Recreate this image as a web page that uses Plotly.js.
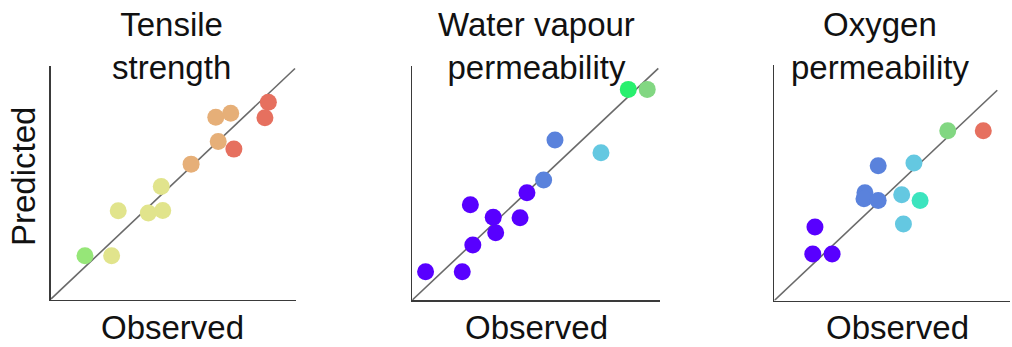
<!DOCTYPE html>
<html>
<head>
<meta charset="utf-8">
<script src="https://cdn.plot.ly/plotly-3.0.1.min.js"></script>
<style>html,body{margin:0;padding:0;background:#fff;}#chart{width:1012px;height:347px;}</style>
</head>
<body>
<div id="chart"></div>
<script>
// ---- Data (normalised observed / predicted values) ----
const panelTitles = ["Tensile<br>strength", "Water vapour<br>permeability", "Oxygen<br>permeability"];
const xAxisLabel = "Observed";
const yAxisLabel = "Predicted";

const tensileObserved  = [0.891, 0.877, 0.676, 0.737, 0.686, 0.750, 0.575, 0.453, 0.277, 0.400, 0.459, 0.141, 0.250];
const tensilePredicted = [0.854, 0.787, 0.789, 0.806, 0.684, 0.651, 0.586, 0.489, 0.384, 0.374, 0.385, 0.189, 0.189];
const tensileColour    = [1.00, 1.00, 0.80, 0.80, 0.80, 1.00, 0.80, 0.68, 0.68, 0.68, 0.68, 0.58, 0.68];

const wvpObserved  = [0.878, 0.955, 0.580, 0.767, 0.534, 0.466, 0.236, 0.329, 0.438, 0.339, 0.246, 0.054, 0.203];
const wvpPredicted = [0.909, 0.909, 0.691, 0.636, 0.518, 0.463, 0.411, 0.357, 0.355, 0.290, 0.237, 0.122, 0.122];
const wvpColour    = [0.45, 0.52, 0.20, 0.30, 0.20, 0.00, 0.00, 0.00, 0.00, 0.00, 0.00, 0.00, 0.00];

const oxyObserved  = [0.708, 0.853, 0.424, 0.570, 0.370, 0.366, 0.424, 0.520, 0.595, 0.527, 0.166, 0.157, 0.236];
const oxyPredicted = [0.735, 0.735, 0.583, 0.595, 0.466, 0.440, 0.433, 0.458, 0.433, 0.331, 0.318, 0.201, 0.201];
const oxyColour    = [0.52, 1.00, 0.20, 0.30, 0.20, 0.20, 0.20, 0.30, 0.38, 0.30, 0.00, 0.00, 0.00];

// identity line end points (observed = predicted)
const identityEnd = [1.0, 1.0, 0.91];

// ---- Styling / layout ----
const W = 1012, H = 347;
const px = x => x / W;
const py = y => 1 - y / H;

const colourScale = [
  [0.00, "rgb(88,0,255)"],
  [0.20, "rgb(90,130,220)"],
  [0.30, "rgb(100,200,225)"],
  [0.38, "rgb(60,228,190)"],
  [0.45, "rgb(40,240,110)"],
  [0.52, "rgb(130,215,130)"],
  [0.58, "rgb(150,230,120)"],
  [0.68, "rgb(225,228,140)"],
  [0.80, "rgb(230,175,120)"],
  [1.00, "rgb(230,112,95)"]
];

// pixel frames of each panel: left, right, bottom, top ; unit = pixels per normalised unit
const frames = [
  {l: 50.5, r: 296, b: 299.5, t: 66, ux: 244.5, uy: 231},
  {l: 412.3, r: 660, b: 300, t: 66, ux: 246, uy: 231.7},
  {l: 774.3, r: 1010, b: 300.5, t: 65, ux: 245, uy: 231}
];
const titleX = [171, 536, 880];
const obsX = [172, 536, 897];

const series = [
  [tensileObserved, tensilePredicted, tensileColour],
  [wvpObserved, wvpPredicted, wvpColour],
  [oxyObserved, oxyPredicted, oxyColour]
];

const data = [];
const layout = {
  width: W, height: H,
  margin: {l: 0, r: 0, t: 0, b: 0},
  paper_bgcolor: "#fff", plot_bgcolor: "#fff",
  showlegend: false,
  font: {family: "Liberation Sans, Arial, sans-serif", color: "#111"},
  annotations: []
};

frames.forEach((f, i) => {
  const n = i === 0 ? "" : String(i + 1);
  const xa = "x" + n, ya = "y" + n;
  const axCommon = {
    showline: true, linecolor: "#3a3a3a", linewidth: 1.6,
    showgrid: false, zeroline: false, showticklabels: false, ticks: "",
    fixedrange: true
  };
  layout["xaxis" + n] = Object.assign({}, axCommon, {
    domain: [px(f.l), px(f.r)],
    range: [0, (f.r - f.l) / f.ux],
    anchor: ya
  });
  layout["yaxis" + n] = Object.assign({}, axCommon, {
    domain: [py(f.b), py(f.t)],
    range: [0, (f.b - f.t) / f.uy],
    anchor: xa
  });
  data.push({
    type: "scatter", mode: "lines", xaxis: xa, yaxis: ya,
    x: [0, identityEnd[i]], y: [0, identityEnd[i]],
    line: {color: "#6a6a6a", width: 1.6}, hoverinfo: "skip", cliponaxis: false
  });
  const s = series[i];
  data.push({
    type: "scatter", mode: "markers", xaxis: xa, yaxis: ya,
    x: s[0], y: s[1],
    marker: {size: 17, color: s[2], colorscale: colourScale, cmin: 0, cmax: 1,
             showscale: false, line: {width: 0}},
    cliponaxis: false
  });
  layout.annotations.push({
    xref: "paper", yref: "paper", x: px(titleX[i]), y: py(46),
    xanchor: "center", yanchor: "middle", showarrow: false,
    text: panelTitles[i], font: {size: 33, color: "#111"}
  });
  layout.annotations.push({
    xref: "paper", yref: "paper", x: px(obsX[i]), y: py(327),
    xanchor: "center", yanchor: "middle", showarrow: false,
    text: xAxisLabel, font: {size: 33, color: "#111"}
  });
});

layout.annotations.push({
  xref: "paper", yref: "paper", x: px(24), y: py(177),
  xanchor: "center", yanchor: "middle", showarrow: false, textangle: -90,
  text: yAxisLabel, font: {size: 33, color: "#111"}
});

Plotly.newPlot("chart", data, layout, {staticPlot: true, displayModeBar: false});
</script>
</body>
</html>
